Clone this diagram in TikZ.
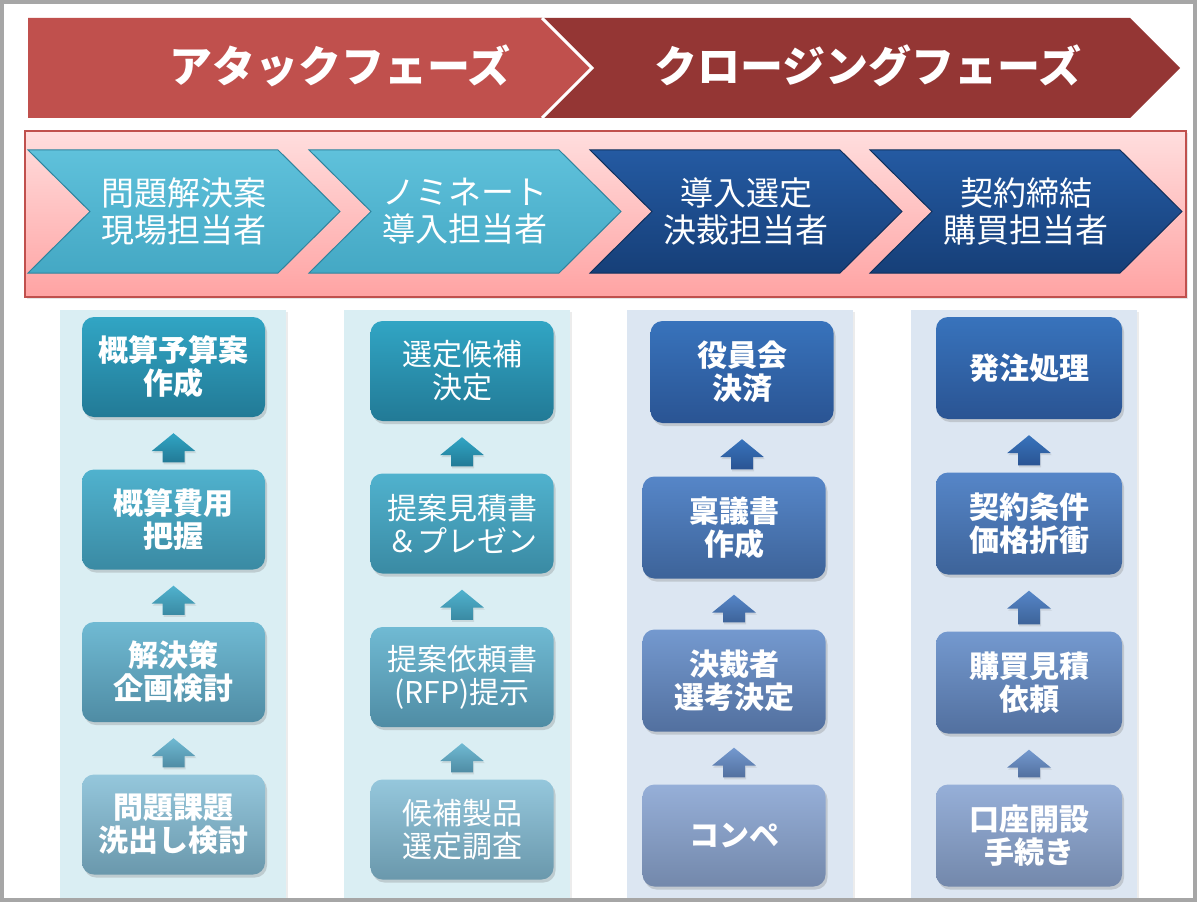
\documentclass[tikz,border=0pt]{standalone}
\usepackage{fontspec}
\setmainfont{Noto Sans CJK JP}
\usepackage{tikz}
\usetikzlibrary{calc,shadows}

\definecolor{framegray}{HTML}{A6A6A6}
\definecolor{attackred}{HTML}{C0504D}
\definecolor{closingred}{HTML}{943634}
\definecolor{pinktop}{HTML}{FFDEDE}
\definecolor{pinkbot}{HTML}{FFA3A3}
\definecolor{cyantop}{HTML}{5FC1DB}
\definecolor{cyanbot}{HTML}{44A8C4}
\definecolor{cyanedge}{HTML}{2F849E}
\definecolor{navytop}{HTML}{245AA2}
\definecolor{navybot}{HTML}{163F78}
\definecolor{navyedge}{HTML}{10305C}
\definecolor{panelcyan}{HTML}{DAEEF3}
\definecolor{panelblue}{HTML}{DCE6F2}
\definecolor{teal1t}{HTML}{31A5C4}\definecolor{teal1b}{HTML}{227A96}
\definecolor{teal2t}{HTML}{50B2CE}\definecolor{teal2b}{HTML}{3A8AA3}
\definecolor{teal3t}{HTML}{70BAD3}\definecolor{teal3b}{HTML}{4F8CA4}
\definecolor{teal4t}{HTML}{95C7DC}\definecolor{teal4b}{HTML}{6A98AC}
\definecolor{blue1t}{HTML}{3873BC}\definecolor{blue1b}{HTML}{2A5493}
\definecolor{blue2t}{HTML}{5686C8}\definecolor{blue2b}{HTML}{3D6399}
\definecolor{blue3t}{HTML}{7499CF}\definecolor{blue3b}{HTML}{52709F}
\definecolor{blue4t}{HTML}{96AFD8}\definecolor{blue4b}{HTML}{7388AB}

\newcommand\boxfont{\fontsize{30}{33}\selectfont}

% chevron: name, left x, top y, style, text
\newcommand\chevron[5]{%
  \path[#4] (#2,#3) -- ++(250,0) -- ++(62,61.5) -- ++(-62,61.5) -- ++(-250,0) -- ++(62,-61.5) -- cycle;
  \node[chevtext] (#1) at (#2+156,#3+61.5) {#5};}

% block arrow up: lower node, upper node, top colour, bottom colour
\newcommand\blockup[4]{%
  \path[top color=#3, bottom color=#4, drop shadow={opacity=0.2,shadow xshift=1pt,shadow yshift=-2pt}]
    ($(#1.north -| #2.south)+(-11,-7)$) -- ($(#2.south)+(-11,34)$) -- ($(#2.south)+(-22,34)$)
    -- ($(#2.south)+(0,16)$) -- ($(#2.south)+(22,34)$) -- ($(#2.south)+(11,34)$)
    -- ($(#1.north -| #2.south)+(11,-7)$) -- cycle;}

\begin{document}
\begin{tikzpicture}[x=1pt,y=-1pt,
  head/.style={text=white, font=\fontsize{43}{48}\selectfont\bfseries},
  chevtext/.style={text=white, align=center, font=\fontsize{33}{37}\selectfont},
  cyanchev/.style={top color=cyantop, bottom color=cyanbot, draw=cyanedge, line width=1pt},
  navychev/.style={top color=navytop, bottom color=navybot, draw=navyedge, line width=1pt},
  panel/.style={fill=#1, minimum width=226pt, minimum height=588pt, inner sep=0pt,
    drop shadow={opacity=0.15,shadow xshift=2pt,shadow yshift=-2pt}},
  box/.style={rectangle, rounded corners=12pt, minimum width=183pt, minimum height=100pt,
    inner sep=2pt, align=center, text=white, font=\boxfont\bfseries,
    drop shadow={opacity=0.3,shadow xshift=2pt,shadow yshift=-3pt}},
  thinbox/.style={box, font=\boxfont}]
  \useasboundingbox (0,0) rectangle (1198,909);
  \fill[white] (0,0) rectangle (1198,909);

  % phases
  \path[fill=closingred] (520,18) -- (1130,18) -- (1180,68) -- (1130,118) -- (520,118) -- cycle;
  \path[fill=attackred] (28,18) -- (542,18) -- (592,68) -- (542,118) -- (28,118) -- cycle;
  \draw[white, line width=3pt] (542,18) -- (592,68) -- (542,118);
  \node[head] (attack) at (340,66) {アタックフェーズ};
  \node[head] (closing) at (868,66) {クロージングフェーズ};

  % persons in charge
  \path[top color=pinktop, bottom color=pinkbot, draw=attackred, line width=1.5pt,
    drop shadow={opacity=0.2,shadow xshift=2pt,shadow yshift=-2pt}] (25,131) rectangle (1186,297);
  \chevron{genba}{28}{150}{cyanchev}{問題解決案\\現場担当者}
  \chevron{donyu}{309}{150}{cyanchev}{ノミネート\\導入担当者}
  \chevron{kessai}{590}{150}{navychev}{導入選定\\決裁担当者}
  \chevron{kobai}{870}{150}{navychev}{契約締結\\購買担当者}

  % columns
  \node[panel=panelcyan] (p1) at (173,604) {};
  \node[panel=panelcyan] (p2) at (456.5,604) {};
  \node[panel=panelblue] (p3) at (740,604) {};
  \node[panel=panelblue] (p4) at (1023.5,604) {};

  \node[box, top color=teal1t, bottom color=teal1b] (a1) at (173.5,367) {概算予算案\\作成};
  \node[box, top color=teal2t, bottom color=teal2b] (a2) at (173.5,519.5) {概算費用\\把握};
  \node[box, top color=teal3t, bottom color=teal3b] (a3) at (173.5,672) {解決策\\企画検討};
  \node[box, top color=teal4t, bottom color=teal4b] (a4) at (173.5,824.5) {問題課題\\洗出し検討};

  \node[thinbox, top color=teal1t, bottom color=teal1b] (b1) at (462,371) {選定候補\\決定};
  \node[thinbox, top color=teal2t, bottom color=teal2b] (b2) at (462,523.5) {提案見積書\\＆プレゼン};
  \node[thinbox, top color=teal3t, bottom color=teal3b] (b3) at (462,677) {提案依頼書\\(RFP)提示};
  \node[thinbox, top color=teal4t, bottom color=teal4b] (b4) at (462,829.5) {候補製品\\選定調査};

  \node[box, top color=blue1t, bottom color=blue1b, minimum height=102pt] (c1) at (742,372) {役員会\\決済};
  \node[box, top color=blue2t, bottom color=blue2b, minimum height=102pt] (c2) at (734,527.5) {稟議書\\作成};
  \node[box, top color=blue3t, bottom color=blue3b, minimum height=102pt] (c3) at (734,680.5) {決裁者\\選考決定};
  \node[box, top color=blue4t, bottom color=blue4b, minimum height=102pt] (c4) at (734,835.5) {コンペ};

  \node[box, top color=blue1t, bottom color=blue1b, minimum width=186pt, minimum height=102pt] (d1) at (1029,368) {発注処理};
  \node[box, top color=blue2t, bottom color=blue2b, minimum width=186pt, minimum height=102pt] (d2) at (1029,523.5) {契約条件\\価格折衝};
  \node[box, top color=blue3t, bottom color=blue3b, minimum width=186pt, minimum height=102pt] (d3) at (1029,682.5) {購買見積\\依頼};
  \node[box, top color=blue4t, bottom color=blue4b, minimum width=186pt, minimum height=102pt] (d4) at (1029,835.5) {口座開設\\手続き};

  \blockup{a2}{a1}{teal1t}{teal1b}
  \blockup{a3}{a2}{teal2t}{teal2b}
  \blockup{a4}{a3}{teal3t}{teal3b}
  \blockup{b2}{b1}{teal1t}{teal1b}
  \blockup{b3}{b2}{teal2t}{teal2b}
  \blockup{b4}{b3}{teal3t}{teal3b}
  \blockup{c2}{c1}{blue1t}{blue1b}
  \blockup{c3}{c2}{blue2t}{blue2b}
  \blockup{c4}{c3}{blue3t}{blue3b}
  \blockup{d2}{d1}{blue1t}{blue1b}
  \blockup{d3}{d2}{blue2t}{blue2b}
  \blockup{d4}{d3}{blue3t}{blue3b}

  % frame
  \draw[framegray, line width=4pt] (2,2) rectangle (1195,900);
\end{tikzpicture}
\end{document}
